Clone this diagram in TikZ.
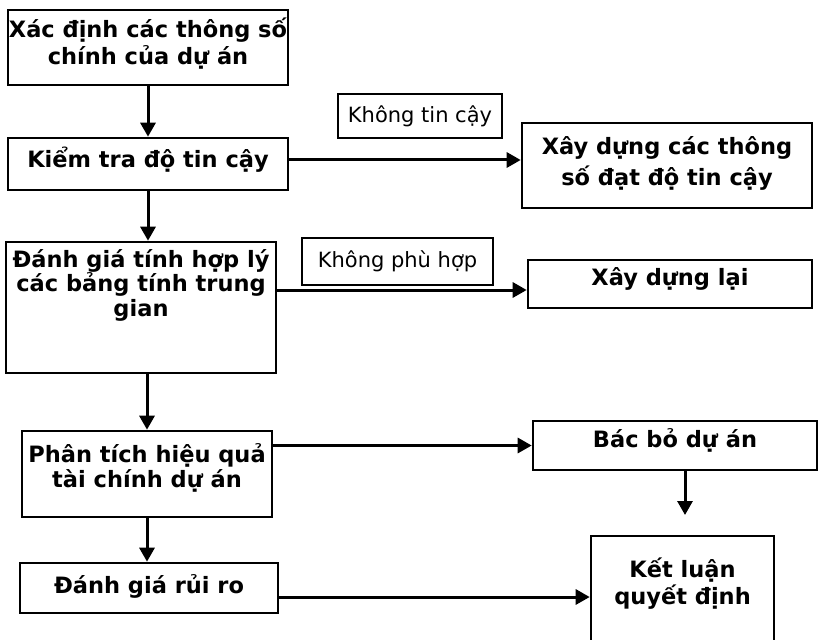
\documentclass[tikz,border=0pt]{standalone}
\usepackage{fontspec}
\setmainfont{DejaVu Sans}
\usetikzlibrary{arrows.meta}
\newcommand{\boxtext}[5]{\begin{minipage}[c][#2][t]{#1}\centering\baselineskip=#4\relax\rule{0pt}{#3}#5\end{minipage}}
\begin{document}
\begin{tikzpicture}[x=1pt,y=-1pt,
  box/.style={draw, line width=2.6pt, inner sep=0pt, font=\bfseries\fontsize{22.5}{27}\selectfont},
  lbl/.style={draw, line width=1.8pt, inner sep=0pt, font=\fontsize{21}{25}\selectfont},
  arr/.style={line width=3pt, -{Triangle[width=15pt,length=14pt]}}]
\clip (0,0) rectangle (818,639);
\fill[white] (0,0) rectangle (818,639);

\node[box] (b1) at (148,47.5) {\boxtext{280pt}{75pt}{28pt}{27pt}{Xác định các thông số\\chính của dự án}};
\node[box] (b2) at (148,164) {\boxtext{280pt}{52pt}{30pt}{27pt}{Kiểm tra độ tin cậy}};
\node[box] (b3) at (141,307.5) {\boxtext{270pt}{131pt}{25pt}{24.5pt}{Đánh giá tính hợp lý\\các bảng tính trung\\gian}};
\node[box] (b4) at (667,165.5) {\boxtext{290pt}{85pt}{32pt}{30pt}{Xây dựng các thông\\số đạt độ tin cậy}};
\node[box] (b5) at (670,284) {\boxtext{284pt}{48pt}{25pt}{27pt}{Xây dựng lại}};
\node[box] (b6) at (147,474) {\boxtext{250pt}{86pt}{31pt}{25pt}{Phân tích hiệu quả\\tài chính dự án}};
\node[box] (b7) at (149,588) {\boxtext{258pt}{50pt}{30pt}{27pt}{Đánh giá rủi ro}};
\node[box] (bb) at (675,445.5) {\boxtext{284pt}{49pt}{26pt}{27pt}{Bác bỏ dự án}};
\node[box] (kl) at (682.5,618) {\boxtext{183pt}{164pt}{41pt}{27pt}{Kết luận\\quyết định}};

\node[lbl, minimum width=164pt, minimum height=44pt] (l1) at (420,116) {Không tin cậy};
\node[lbl, minimum width=191pt, minimum height=47pt] (l2) at (397.5,261.5) {Không phù hợp};

\draw[arr] (b1.south) -- (b2.north);
\draw[arr] (b2.south) -- (b2.south |- b3.north);
\draw[arr] (b6.north |- b3.south) -- (b6.north);
\draw[arr] (b6.south) -- (b6.south |- b7.north);

\draw[arr] ([yshift=4pt]b2.east) -- ([yshift=4pt]b2.east -| b4.west);
\draw[arr] ([yshift=-6pt]b5.west -| b3.east) -- ([yshift=-6pt]b5.west);
\draw[arr] (bb.west -| b6.east) -- (bb.west);
\draw[arr] ([yshift=-9pt]b7.east) -- ([yshift=-9pt]b7.east -| kl.west);

\coordinate (bbend) at (685,515);
\draw[arr] (bbend |- bb.south) -- (bbend);
\end{tikzpicture}
\end{document}
